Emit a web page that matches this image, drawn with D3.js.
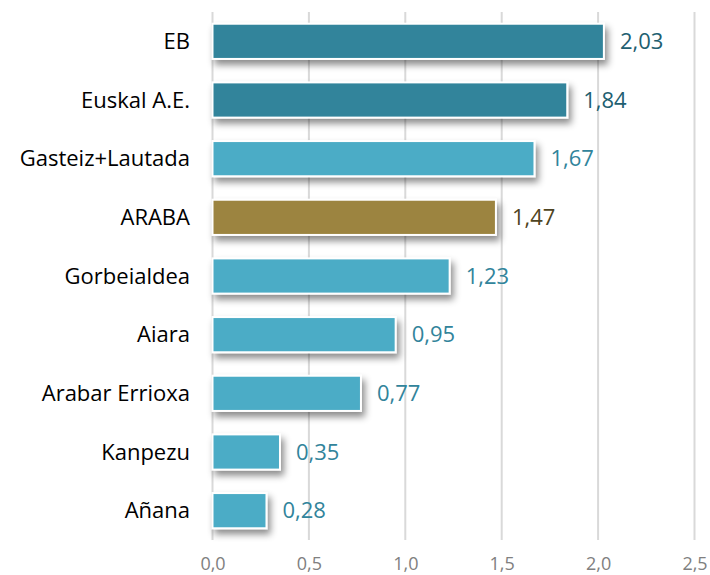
<!DOCTYPE html>
<html>
<head>
<meta charset="utf-8">
<script src="https://cdn.jsdelivr.net/npm/d3@7"></script>
<style>
  body { margin: 0; background: #fff; }
  text { font-family: "Open Sans", Lato, sans-serif; }
</style>
</head>
<body>
<div id="chart"></div>
<script>
// data
var regions = ["EB", "Euskal A.E.", "Gasteiz+Lautada", "ARABA", "Gorbeialdea", "Aiara", "Arabar Errioxa", "Kanpezu", "Añana"];
var values = [2.03, 1.84, 1.67, 1.47, 1.23, 0.95, 0.77, 0.35, 0.28];
var groups = ["spain", "spain", "zone", "araba", "zone", "zone", "zone", "zone", "zone"];
var xTicks = [0, 0.5, 1, 1.5, 2, 2.5];

var fillColor = { spain: "#31849b", zone: "#4bacc6", araba: "#9c8440" };
var labelColor = { spain: "#215e70", zone: "#31849b", araba: "#4f4422" };

var width = 710, height = 575;
var margin = { top: 12, right: 15, bottom: 35, left: 212.5 };

var svg = d3.select("#chart").append("svg")
    .attr("width", width)
    .attr("height", height);

var defs = svg.append("defs");
var shadow = defs.append("filter").attr("id", "shadow")
    .attr("x", "-10%").attr("y", "-30%").attr("width", "130%").attr("height", "180%");
shadow.append("feDropShadow")
    .attr("dx", 3).attr("dy", 5).attr("stdDeviation", 3.5)
    .attr("flood-color", "#000").attr("flood-opacity", 0.45);

var x = d3.scaleLinear().domain([0, 2.5]).range([margin.left, margin.left + 2.5 * 192.8]);
var y = d3.scaleBand().domain(regions).range([margin.top, height - margin.bottom]).paddingInner(0.4).paddingOuter(0.2);

// vertical gridlines
svg.append("g").selectAll("line")
    .data(xTicks)
    .enter().append("line")
    .attr("x1", function(d) { return x(d); })
    .attr("x2", function(d) { return x(d); })
    .attr("y1", margin.top)
    .attr("y2", height - margin.bottom)
    .attr("stroke", "#d9d9d9")
    .attr("stroke-width", 2);

// x axis labels
var xAxis = d3.axisBottom(x).tickValues(xTicks)
    .tickSize(0).tickPadding(0)
    .tickFormat(function(d) { return d3.format(".1f")(d).replace(".", ","); });
var gx = svg.append("g").attr("transform", "translate(0," + (height - margin.bottom + 17) + ")").call(xAxis);
gx.select(".domain").remove();
gx.selectAll("text").attr("font-size", 18).attr("fill", "#808080").attr("font-family", "'Open Sans', Lato, sans-serif");

// category labels
svg.append("g").selectAll("text")
    .data(regions)
    .enter().append("text")
    .attr("x", 190)
    .attr("y", function(d) { return y(d) + y.bandwidth() / 2; })
    .attr("dy", "0.35em")
    .attr("text-anchor", "end")
    .attr("font-size", 22)
    .attr("fill", "#000")
    .text(function(d) { return d; });

// bars
svg.append("g").selectAll("rect")
    .data(values)
    .enter().append("rect")
    .attr("x", x(0))
    .attr("y", function(d, i) { return y(regions[i]); })
    .attr("width", function(d) { return x(d) - x(0); })
    .attr("height", y.bandwidth())
    .attr("fill", function(d, i) { return fillColor[groups[i]]; })
    .attr("stroke", "#fff")
    .attr("stroke-width", 2)
    .attr("filter", "url(#shadow)");

// value labels
svg.append("g").selectAll("text")
    .data(values)
    .enter().append("text")
    .attr("x", function(d) { return x(d) + 16; })
    .attr("y", function(d, i) { return y(regions[i]) + y.bandwidth() / 2; })
    .attr("dy", "0.35em")
    .attr("font-size", 22)
    .attr("fill", function(d, i) { return labelColor[groups[i]]; })
    .text(function(d) { return d3.format(".2f")(d).replace(".", ","); });
</script>
</body>
</html>
